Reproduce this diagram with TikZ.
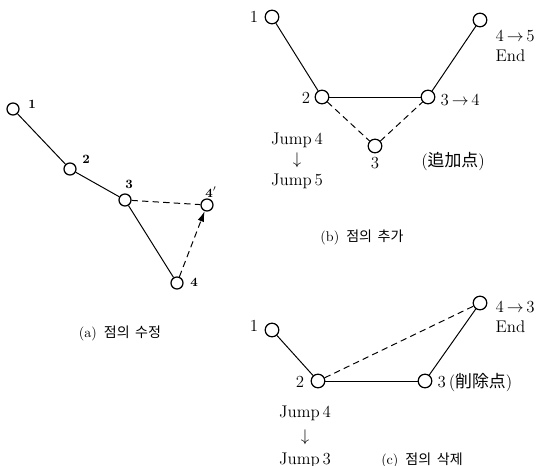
\documentclass[tikz,border=0pt]{standalone}
\usepackage{fontspec}
\newfontfamily\kor{Noto Sans CJK KR}
\usetikzlibrary{arrows.meta}
\tikzset{
  vtx/.style={circle, draw, line width=0.9pt, fill=white,
    minimum size=0.34cm, inner sep=0pt},
  smallvtx/.style={vtx, minimum size=0.3cm},
  seg/.style={line width=0.7pt},
  newseg/.style={seg, dash pattern=on 4.5pt off 3pt},
  lbl/.style={font=\large, inner sep=1pt},
  smalllbl/.style={font=\small\bfseries, inner sep=1pt},
  subcap/.style={font=\normalsize, inner sep=1pt}
}

\begin{document}
\begin{tikzpicture}[x=0.025cm, y=-0.025cm]
  \useasboundingbox (0,0) rectangle (541,466);

  % (a) modify a point
  \node[smallvtx] (a1) at (13,109) {};
  \node[smallvtx] (a2) at (70,169) {};
  \node[smallvtx] (a3) at (125,200) {};
  \node[smallvtx] (a4) at (177,283) {};
  \node[smallvtx] (a4m) at (207,205) {};
  \draw[seg] (a1)--(a2);
  \draw[seg] (a2)--(a3);
  \draw[seg] (a3)--(a4);
  \draw[newseg] (a3)--(a4m);
  \draw[newseg,-{Latex[length=2.6mm,width=1.6mm]}] (a4)--(a4m);
  \node[smalllbl] (ta1) at (32,104) {1};
  \node[smalllbl] (ta2) at (86,159) {2};
  \node[smalllbl] (ta3) at (129,184) {3};
  \node[smalllbl] (ta4) at (194,282) {4};
  \node[smalllbl] (ta4m) at (211,192) {4$'$};
  \node[subcap] (capa) at (120,333) {(a)\, {\kor 점의\, 수정}};

  % (b) add a point
  \node[vtx] (b1) at (272,17) {};
  \node[vtx] (b2) at (322,97) {};
  \node[vtx] (b3) at (428,97) {};
  \node[vtx] (b4) at (480,20) {};
  \node[vtx] (bnew) at (375,146) {};
  \draw[seg] (b1)--(b2);
  \draw[seg] (b2)--(b3);
  \draw[seg] (b3)--(b4);
  \draw[newseg] (b2)--(bnew);
  \draw[newseg] (bnew)--(b3);
  \node[lbl] (tb1) at (254,17) {1};
  \node[lbl] (tb2) at (306,98) {2};
  \node[lbl,anchor=west] (tb3) at (439,100) {3\,$\to$\,4};
  \node[lbl,anchor=west,align=left] (tb4) at (494,46) {4\,$\to$\,5\\End};
  \node[lbl] (tbnew) at (375,163) {3};
  \node[lbl] (tbadd) at (453,162) {({\kor 追加点})};
  \node[lbl] (tbjmp) at (297,140) {Jump\,4};
  \node[lbl] (tbarr) at (297,160) {$\downarrow$};
  \node[lbl] (tbjmpn) at (297,181) {Jump\,5};
  \node[subcap] (capb) at (362,237) {(b)\, {\kor 점의\, 추가}};

  % (c) delete a point
  \node[vtx] (c1) at (272,330) {};
  \node[vtx] (c2) at (318,381) {};
  \node[vtx] (c3) at (425,381) {};
  \node[vtx] (c4) at (480,303) {};
  \draw[seg] (c1)--(c2);
  \draw[seg] (c2)--(c3);
  \draw[seg] (c3)--(c4);
  \draw[newseg] (c2)--(c4);
  \node[lbl] (tc1) at (254,326) {1};
  \node[lbl] (tc2) at (300,382) {2};
  \node[lbl,anchor=west,align=left] (tc4) at (494,317) {4\,$\to$\,3\\End};
  \node[lbl,anchor=west] (tcdel) at (436,383) {3\,({\kor 削除点})};
  \node[lbl] (tcjmp) at (305,413) {Jump\,4};
  \node[lbl] (tcarr) at (305,437) {$\downarrow$};
  \node[lbl] (tcjmpn) at (305,460) {Jump\,3};
  \node[subcap] (capc) at (422,460) {(c)\, {\kor 점의\, 삭제}};
\end{tikzpicture}
\end{document}
